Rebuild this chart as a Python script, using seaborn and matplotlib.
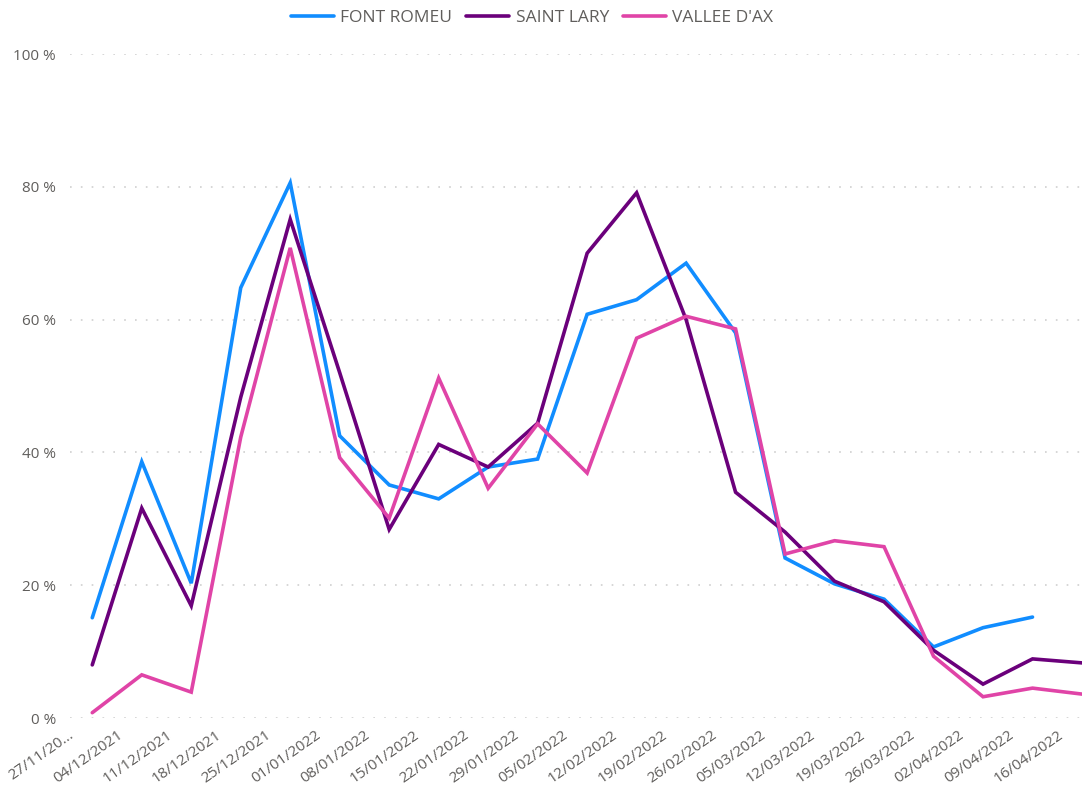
import matplotlib.pyplot as plt
import matplotlib.transforms as mtransforms
import numpy as np
import pandas as pd
import seaborn as sns

weeks = ["27/11/2021", "04/12/2021", "11/12/2021", "18/12/2021", "25/12/2021",
         "01/01/2022", "08/01/2022", "15/01/2022", "22/01/2022", "29/01/2022",
         "05/02/2022", "12/02/2022", "19/02/2022", "26/02/2022", "05/03/2022",
         "12/03/2022", "19/03/2022", "26/03/2022", "02/04/2022", "09/04/2022",
         "16/04/2022"]
tick_labels = ["27/11/20..."] + weeks[1:]

font_romeu = [15.1, 38.6, 20.3, 64.8, 80.6, 42.5, 35.1, 33.0, 37.8, 39.0,
              60.8, 63.0, 68.5, 58.0, 24.1, 20.2, 17.9, 10.7, 13.6, 15.2, np.nan]
saint_lary = [8.0, 31.6, 16.9, 48.3, 75.1, 52.0, 28.4, 41.2, 37.8, 44.4,
              70.0, 79.1, 60.0, 34.0, 28.0, 20.6, 17.5, 10.2, 5.1, 8.9, 8.3]
vallee_dax = [0.8, 6.5, 3.9, 42.3, 70.8, 39.2, 30.1, 51.2, 34.6, 44.3,
              36.9, 57.2, 60.5, 58.6, 24.7, 26.7, 25.8, 9.3, 3.2, 4.5, 3.6]

resorts = ["FONT ROMEU", "SAINT LARY", "VALLEE D'AX"]
colors = ["#118DFF", "#6B007B", "#E044A7"]

rows = []
for name, vals in zip(resorts, [font_romeu, saint_lary, vallee_dax]):
    for i, v in enumerate(vals):
        rows.append({"pos": i, "resort": name, "value": v})
df = pd.DataFrame(rows).dropna()

sns.set_style("white")
plt.rcParams['font.family'] = ['Open Sans', 'DejaVu Sans']
text_color = "#605E5C"

fig = plt.figure(figsize=(10.82, 7.91), dpi=100)
ax = fig.add_axes([70 / 1082, 73 / 791, 1 - 70 / 1082, 664 / 791])

sns.lineplot(data=df, x="pos", y="value", hue="resort", hue_order=resorts,
             palette=colors, linewidth=2.6, ax=ax, sort=False, legend=True)

ax.set_xlim(-0.45, len(weeks) - 1)
ax.set_ylim(0, 100)
ax.set_yticks([0, 20, 40, 60, 80, 100])
ax.set_yticklabels([f"{v} %" for v in [0, 20, 40, 60, 80, 100]])
ax.set_xticks(range(len(weeks)))
ax.set_xticklabels(tick_labels, rotation=35, ha="right", rotation_mode="default")
ax.tick_params(axis="both", length=0, labelsize=11, labelcolor=text_color)
ax.tick_params(axis="y", pad=10)
ax.tick_params(axis="x", pad=7)

# nudge rotated date labels left like the original
offset = mtransforms.ScaledTranslation(-0.16, 0, fig.dpi_scale_trans)
for lbl in ax.get_xticklabels():
    lbl.set_transform(lbl.get_transform() + offset)

ax.set_xlabel("")
ax.set_ylabel("")
ax.yaxis.grid(True, color="#CFCFCF", linestyle=(0, (1, 5.5)), linewidth=1.2)
ax.xaxis.grid(False)
for s in ax.spines.values():
    s.set_visible(False)
for line in ax.lines:
    line.set_clip_on(False)
    line.set_solid_joinstyle("miter")

handles, labels = ax.get_legend_handles_labels()
ax.get_legend().remove()
leg = fig.legend(handles, labels, loc="center", bbox_to_anchor=(532 / 1082, 1 - 18 / 791),
                 ncol=3, frameon=False, fontsize=12.5, handlelength=2.5,
                 handletextpad=0.35, columnspacing=0.8)
for t in leg.get_texts():
    t.set_color(text_color)
for h in leg.get_lines():
    h.set_linewidth(2.6)

fig.savefig("out.png", dpi=100)
